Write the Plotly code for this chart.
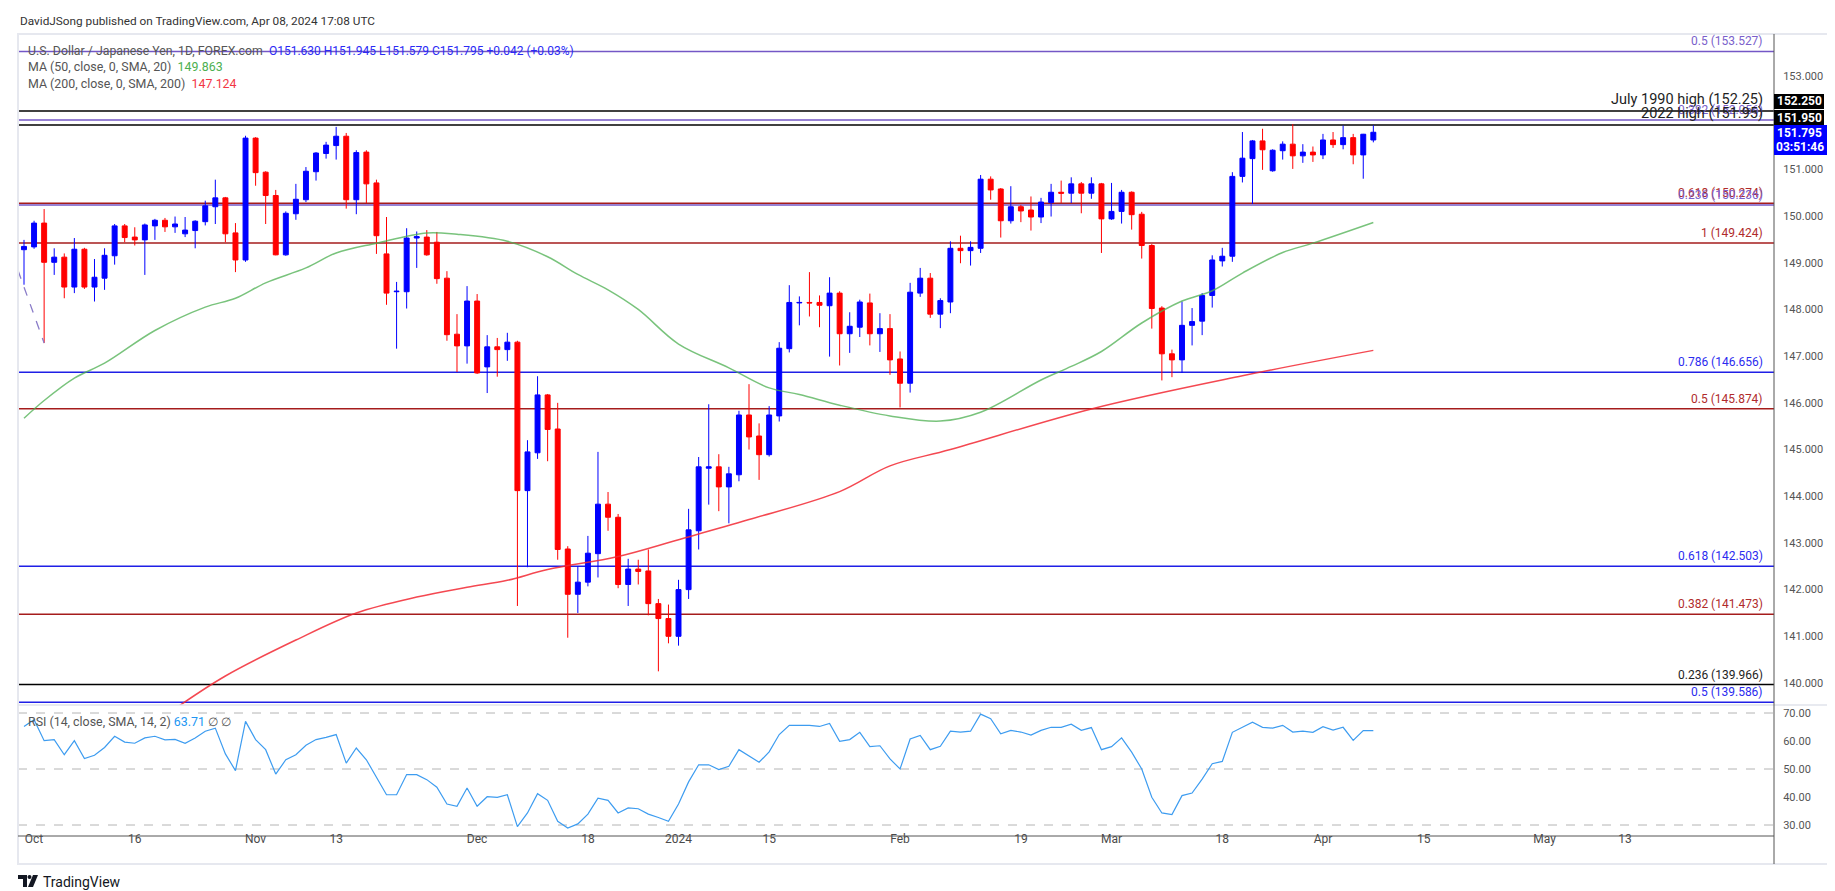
import plotly.graph_objects as go
import pandas as pd

# ---------------- data ----------------
holidays = ["2023-12-25", "2024-01-01"]
calendar = [d.strftime("%Y-%m-%d") for d in pd.bdate_range("2023-09-29", "2024-06-28")
            if d.strftime("%Y-%m-%d") not in holidays]

opens = [149.28, 149.34, 149.85, 149.01, 149.12, 148.48, 149.29, 148.48, 148.67, 149.15,
         149.79, 149.55, 149.49, 149.79, 149.91, 149.77, 149.62, 149.69, 149.88, 150.20,
         150.39, 149.64, 149.06, 151.67, 150.94, 150.44, 149.17, 150.05, 150.35, 150.95,
         151.34, 151.51, 151.71, 150.35, 151.37, 150.71, 149.19, 148.38, 148.38, 149.53,
         149.55, 149.44, 148.67, 147.47, 147.22, 148.18, 146.77, 147.20, 147.14, 147.30,
         144.12, 144.93, 146.17, 145.44, 142.87, 141.90, 142.16, 142.77, 143.83, 143.55,
         142.11, 142.44, 142.40, 141.70, 141.38, 141.00, 142.00, 143.26, 144.60, 144.63,
         144.20, 144.46, 145.74, 145.29, 144.89, 145.72, 147.16, 148.14, 148.15, 148.15,
         148.08, 148.35, 147.48, 147.62, 148.14, 147.48, 147.59, 146.94, 146.42, 148.35,
         148.67, 147.90, 148.16, 149.31, 149.26, 149.31, 150.79, 150.58, 149.90, 150.20,
         150.13, 149.98, 150.29, 150.51, 150.49, 150.69, 150.49, 150.69, 149.94, 150.10,
         150.51, 150.04, 149.37, 148.03, 147.05, 146.92, 147.66, 147.75, 148.30, 149.04,
         149.14, 150.85, 151.23, 151.61, 150.97, 151.40, 151.54, 151.29, 151.37, 151.31,
         151.63, 151.53, 151.68, 151.31, 151.630]
highs = [149.49, 149.90, 150.15, 149.31, 149.20, 149.53, 149.32, 149.08, 149.31, 149.83,
         149.83, 149.76, 149.84, 149.94, 149.96, 149.99, 149.98, 149.91, 150.33, 150.78,
         150.41, 149.85, 151.72, 151.69, 150.96, 150.56, 150.10, 150.69, 151.05, 151.37,
         151.59, 151.91, 151.78, 151.41, 151.41, 150.78, 149.98, 148.59, 149.74, 149.67,
         149.70, 149.66, 148.82, 147.90, 148.50, 148.33, 147.45, 147.39, 147.50, 147.33,
         145.20, 146.57, 146.19, 146.00, 142.93, 142.50, 143.15, 144.95, 144.09, 143.62,
         142.66, 142.64, 142.86, 141.80, 141.68, 142.21, 143.73, 144.84, 145.97, 144.90,
         144.63, 145.83, 146.40, 145.56, 145.93, 147.30, 148.52, 148.28, 148.80, 148.30,
         148.69, 148.39, 147.94, 148.21, 148.34, 147.92, 147.90, 147.10, 148.57, 148.89,
         148.78, 148.24, 149.46, 149.58, 149.46, 150.88, 150.85, 150.60, 150.64, 150.24,
         150.42, 150.39, 150.69, 150.76, 150.83, 150.73, 150.83, 150.71, 150.71, 150.56,
         150.53, 150.09, 149.40, 148.07, 147.14, 148.17, 148.03, 148.35, 149.16, 149.32,
         150.94, 151.80, 151.63, 151.87, 151.43, 151.60, 151.97, 151.54, 151.49, 151.76,
         151.80, 151.94, 151.76, 151.76, 151.945]
lows = [148.53, 149.30, 147.28, 148.74, 148.24, 148.35, 148.44, 148.17, 148.42, 148.96,
        149.44, 149.37, 148.74, 149.49, 149.66, 149.64, 149.55, 149.31, 149.80, 149.83,
        149.44, 148.80, 149.02, 150.65, 149.83, 149.16, 149.15, 149.92, 150.30, 150.76,
        151.23, 151.21, 150.16, 150.04, 150.28, 149.19, 148.10, 147.16, 148.02, 148.89,
        149.15, 148.55, 147.33, 146.66, 146.84, 146.62, 146.21, 146.56, 146.90, 141.65,
        142.48, 144.80, 144.75, 142.64, 140.97, 141.50, 142.07, 142.26, 143.26, 142.03,
        141.65, 142.11, 141.45, 140.25, 140.85, 140.80, 141.80, 142.86, 143.82, 143.68,
        143.42, 144.32, 145.00, 144.35, 144.85, 145.60, 147.08, 147.66, 147.85, 147.62,
        146.99, 146.80, 147.07, 147.41, 147.23, 147.09, 146.60, 145.90, 146.22, 148.27,
        147.82, 147.60, 147.92, 148.99, 148.94, 149.21, 150.35, 149.54, 149.84, 149.87,
        149.69, 149.85, 149.99, 150.28, 150.28, 150.06, 150.37, 149.21, 149.92, 149.84,
        149.71, 149.09, 147.59, 146.48, 146.55, 146.64, 147.23, 147.45, 148.04, 148.92,
        149.02, 150.72, 150.26, 150.99, 150.95, 151.21, 151.01, 151.14, 151.16, 151.22,
        151.46, 151.43, 151.11, 150.80, 151.579]
closes = [149.35, 149.85, 149.01, 149.12, 148.48, 149.29, 148.48, 148.69, 149.16, 149.79,
          149.54, 149.49, 149.81, 149.91, 149.77, 149.83, 149.70, 149.89, 150.22, 150.39,
          149.62, 149.06, 151.67, 150.93, 150.44, 149.17, 150.06, 150.36, 150.96, 151.35,
          151.52, 151.71, 150.35, 151.36, 150.69, 149.58, 148.35, 148.39, 149.53, 149.56,
          149.17, 148.66, 147.46, 147.22, 148.18, 146.64, 147.20, 147.14, 147.30, 144.12,
          144.95, 146.17, 145.43, 142.86, 141.90, 142.16, 142.78, 143.83, 143.55, 142.11,
          142.44, 142.39, 141.70, 141.38, 141.00, 142.00, 143.28, 144.63, 144.63, 144.20,
          144.48, 145.74, 145.27, 144.89, 145.74, 147.17, 148.15, 148.15, 148.14, 148.09,
          148.35, 147.48, 147.64, 148.16, 147.48, 147.59, 146.92, 146.42, 148.37, 148.67,
          147.90, 148.19, 149.31, 149.26, 149.33, 150.79, 150.56, 149.90, 150.20, 150.11,
          149.98, 150.30, 150.51, 150.49, 150.69, 150.49, 150.69, 149.94, 150.10, 150.51,
          150.03, 149.37, 148.02, 147.05, 146.92, 147.66, 147.74, 148.30, 149.06, 149.14,
          150.85, 151.24, 151.61, 151.42, 151.41, 151.54, 151.29, 151.37, 151.31, 151.63,
          151.53, 151.68, 151.31, 151.753, 151.795]

dates = calendar[:len(closes)]

# moving averages (bar number, value)
ma50_bar = [0, 2, 5, 8, 13, 18, 21, 24, 28, 31, 35, 40, 43, 48, 52, 55, 58, 61, 65, 70,
            74, 77, 81, 86, 91, 95, 101, 104, 107, 111, 115, 118, 121, 125, 128, 134]
ma50_val = [145.67, 146.05, 146.53, 146.85, 147.55, 148.05, 148.24, 148.57, 148.89, 149.21,
            149.42, 149.64, 149.61, 149.46, 149.13, 148.75, 148.42, 148.00, 147.26, 146.75,
            146.32, 146.18, 145.95, 145.72, 145.61, 145.80, 146.49, 146.78, 147.10, 147.71,
            148.18, 148.40, 148.78, 149.22, 149.42, 149.863]
ma200_bar = [15, 20, 27, 33, 39, 44, 48, 52, 59, 65, 72, 81, 86, 92, 106, 121, 134]
ma200_val = [139.45, 140.15, 140.92, 141.50, 141.84, 142.05, 142.20, 142.43, 142.71, 143.07,
             143.50, 144.10, 144.65, 145.00, 145.87, 146.58, 147.124]

rsi = [65.2, 67.6, 60.1, 60.5, 55.1, 60.1, 53.7, 54.9, 57.7, 61.7,
       59.6, 59.2, 61.1, 61.7, 60.4, 60.6, 59.2, 61.1, 63.5, 64.6,
       55.4, 49.4, 67.0, 60.5, 56.9, 48.2, 53.3, 55.1, 58.5, 60.5,
       61.3, 62.3, 52.1, 57.5, 53.3, 46.8, 40.8, 40.8, 48.0, 48.0,
       46.2, 43.5, 37.5, 36.7, 43.2, 36.7, 40.1, 39.9, 40.8, 29.4,
       34.3, 41.2, 38.8, 31.3, 28.9, 30.4, 33.9, 39.6, 38.8, 34.3,
       36.1, 35.8, 33.9, 32.7, 31.3, 37.5, 45.4, 51.5, 51.5, 49.8,
       51.0, 56.9, 54.5, 52.4, 56.1, 62.3, 65.6, 65.6, 65.6, 65.2,
       66.3, 59.9, 60.5, 63.1, 58.0, 58.3, 53.6, 50.0, 60.7, 62.0,
       56.9, 58.1, 63.5, 63.2, 63.5, 69.6, 68.0, 62.6, 63.8, 63.2,
       62.1, 63.8, 64.9, 64.9, 66.0, 63.8, 64.8, 56.9, 58.0, 61.1,
       56.0, 50.0, 39.9, 34.3, 33.7, 40.5, 41.4, 46.4, 51.9, 52.7,
       63.1, 64.9, 66.7, 64.9, 64.6, 65.6, 63.2, 63.5, 63.1, 65.1,
       63.9, 64.9, 60.2, 63.7, 63.71]
rsi_levels = [70, 50, 30]

fib_levels = [153.527, 152.25, 152.056, 151.95, 150.274, 150.236, 149.424,
              146.656, 145.874, 142.503, 141.473, 139.966, 139.586]
fib_labels = ["0.5 (153.527)", "July 1990 high (152.25)", "0.382 (152.056)", "2022 high (151.95)",
              "0.618 (150.274)", "0.236 (150.236)", "1 (149.424)", "0.786 (146.656)",
              "0.5 (145.874)", "0.618 (142.503)", "0.382 (141.473)", "0.236 (139.966)",
              "0.5 (139.586)"]
fib_kind = ["purple", "black", "purple", "black", "red", "purple", "red",
            "blue", "red", "blue", "red", "black", "blue"]

trend_bar = [-0.6, 2]
trend_val = [148.84, 147.28]

price_ticks = [140, 141, 142, 143, 144, 145, 146, 147, 148, 149, 150, 151, 153]
rsi_ticks = [30, 40, 50, 60, 70]

tick_dates = ["2023-10-02", "2023-10-16", "2023-11-01", "2023-11-13", "2023-12-01", "2023-12-18",
              "2024-01-02", "2024-01-15", "2024-02-01", "2024-02-19", "2024-03-01", "2024-03-18",
              "2024-04-01", "2024-04-15", "2024-05-01", "2024-05-13"]
tick_labels = ["Oct", "16", "Nov", "13", "Dec", "18", "2024", "15", "Feb", "19", "Mar", "18",
               "Apr", "15", "May", "13"]

tags = [("152.250", "#000000"), ("151.950", "#000000")]
last_time = "03:51:46"

# ---------------- geometry helpers ----------------
W, H = 1835, 891
PL, PR, PT, PB = 10, 1766, 27, 828
SEP = 697


def px(x):
    return (x - PL) / (PR - PL)


def py(y):
    return (PB - y) / (PB - PT)


colors = {"purple": "#7457c6", "black": "#000000", "red": "#a51c1c", "blue": "#1f1fe6"}
text_colors = {"purple": "#7a5fcb", "black": "#1e1e1e", "red": "#b02b2b", "blue": "#2b2bef"}
FONT = "Roboto, 'Noto Sans', sans-serif"

xidx = list(range(len(closes)))
pos = {d: i for i, d in enumerate(calendar)}

fig = go.Figure()

fig.add_trace(go.Candlestick(
    x=xidx, open=opens, high=highs, low=lows, close=closes,
    increasing=dict(line=dict(color="#0000ff", width=1), fillcolor="#0000ff"),
    decreasing=dict(line=dict(color="#ff0000", width=1), fillcolor="#ff0000"),
    whiskerwidth=0, hoverinfo="skip", showlegend=False, yaxis="y", xaxis="x"))

fig.add_trace(go.Scatter(x=ma50_bar, y=ma50_val, mode="lines", yaxis="y",
                         line=dict(color="rgba(76,175,80,0.75)", width=1.5, shape="spline"),
                         hoverinfo="skip", showlegend=False))
fig.add_trace(go.Scatter(x=ma200_bar, y=ma200_val, mode="lines", yaxis="y",
                         line=dict(color="rgba(242,40,50,0.85)", width=1.5, shape="spline"),
                         hoverinfo="skip", showlegend=False))
fig.add_trace(go.Scatter(x=xidx, y=rsi, mode="lines", yaxis="y2",
                         line=dict(color="#3d9cf0", width=1.2),
                         hoverinfo="skip", showlegend=False))

shapes = []
for lv, kind in zip(fib_levels, fib_kind):
    shapes.append(dict(type="line", xref="paper", yref="y", x0=0, x1=1, y0=lv, y1=lv,
                       line=dict(color=colors[kind], width=1.5), layer="below"))
shapes.append(dict(type="line", xref="x", yref="y", x0=trend_bar[0], x1=trend_bar[1],
                   y0=trend_val[0], y1=trend_val[1],
                   line=dict(color="#8a7cc8", width=1.3, dash="dash")))
for lv in rsi_levels:
    shapes.append(dict(type="line", xref="paper", yref="y2", x0=0, x1=1, y0=lv, y1=lv,
                       line=dict(color="#b4b4b4", width=1, dash="dash"), layer="below"))
shapes.append(dict(type="rect", xref="paper", yref="paper", x0=px(10), x1=px(1824),
                   y0=py(856), y1=py(26), line=dict(color="#e6e8ef", width=2)))
shapes.append(dict(type="line", xref="paper", yref="paper", x0=px(10), x1=px(1824),
                   y0=py(SEP), y1=py(SEP), line=dict(color="#e0e3eb", width=1.5)))
shapes.append(dict(type="line", xref="paper", yref="paper", x0=px(1766), x1=px(1766),
                   y0=py(856), y1=py(26), line=dict(color="#555555", width=1)))
shapes.append(dict(type="line", xref="paper", yref="paper", x0=px(10), x1=px(1766),
                   y0=py(828), y1=py(828), line=dict(color="#555555", width=1)))
tag_boxes = [(86, 101), (102, 117)]
for (top, bot), (txt, col) in zip(tag_boxes, tags):
    shapes.append(dict(type="rect", xref="paper", yref="paper", x0=px(1766), x1=px(1816),
                       y0=py(bot), y1=py(top), fillcolor=col, line=dict(width=0)))
shapes.append(dict(type="rect", xref="paper", yref="paper", x0=px(1766), x1=px(1819),
                   y0=py(147), y1=py(117), fillcolor="#0000ff", line=dict(width=0)))
shapes.append(dict(type="path", xref="paper", yref="paper",
                   path="M {a},{b} L {c},{b} L {c},{d} L {e},{d} L {e},{f} L {a},{f} Z".format(
                       a=px(10), b=py(867), c=px(19), d=py(879), e=px(15), f=py(871)),
                   fillcolor="#131722", line=dict(width=0)))
shapes.append(dict(type="circle", xref="paper", yref="paper", x0=px(19.5), x1=px(23.5),
                   y0=py(871), y1=py(867), fillcolor="#131722", line=dict(width=0)))
shapes.append(dict(type="path", xref="paper", yref="paper",
                   path="M {a},{b} L {c},{b} L {d},{e} L {f},{e} Z".format(
                       a=px(25), b=py(867), c=px(30), d=px(25), e=py(879), f=px(20)),
                   fillcolor="#131722", line=dict(width=0)))

ann = []
for lv, lab, kind in zip(fib_levels, fib_labels, fib_kind):
    big = "high" in lab
    ann.append(dict(xref="paper", yref="y", x=px(1757), y=lv, text=lab, showarrow=False,
                    xanchor="right", yanchor="bottom", yshift=1,
                    font=dict(size=14.5 if big else 12, color=text_colors[kind], family=FONT)))

for (top, bot), (txt, col) in zip(tag_boxes, tags):
    ann.append(dict(xref="paper", yref="paper", x=px(1791), y=py((top + bot) / 2),
                    text="<b>%s</b>" % txt, showarrow=False, xanchor="center", yanchor="middle",
                    font=dict(size=12, color="white", family=FONT)))
ann.append(dict(xref="paper", yref="paper", x=px(1792), y=py(125),
                text="<b>%.3f</b>" % closes[-1], showarrow=False, xanchor="center",
                yanchor="middle", font=dict(size=12, color="white", family=FONT)))
ann.append(dict(xref="paper", yref="paper", x=px(1792), y=py(139),
                text="<b>%s</b>" % last_time, showarrow=False, xanchor="center",
                yanchor="middle", font=dict(size=12, color="white", family=FONT)))

chg = closes[-1] - closes[-2]
ann.append(dict(xref="paper", yref="paper", x=px(10), y=py(13), xanchor="left", yanchor="middle",
                showarrow=False, text="DavidJSong published on TradingView.com, Apr 08, 2024 17:08 UTC",
                font=dict(size=11.8, color="#333333", family=FONT)))
blue = "#2a2af5"
ohlc_txt = ("U.S. Dollar / Japanese Yen, 1D, FOREX.com  "
            "<span style='color:%s;font-size:12px'>O%.3f H%.3f L%.3f C%.3f %+.3f (%+.2f%%)</span>"
            % (blue, opens[-1], highs[-1], lows[-1], closes[-1], chg, chg / closes[-2] * 100))
ann.append(dict(xref="paper", yref="paper", x=px(18), y=py(43), xanchor="left", yanchor="middle",
                showarrow=False, text=ohlc_txt, font=dict(size=12.3, color="#555555", family=FONT)))
ann.append(dict(xref="paper", yref="paper", x=px(18), y=py(59), xanchor="left", yanchor="middle",
                showarrow=False,
                text="MA (50, close, 0, SMA, 20)  <span style='color:#4caf50'>%.3f</span>" % ma50_val[-1],
                font=dict(size=12.4, color="#555555", family=FONT)))
ann.append(dict(xref="paper", yref="paper", x=px(18), y=py(75), xanchor="left", yanchor="middle",
                showarrow=False,
                text="MA (200, close, 0, SMA, 200)  <span style='color:#f23645'>%.3f</span>" % ma200_val[-1],
                font=dict(size=12.4, color="#555555", family=FONT)))
ann.append(dict(xref="paper", yref="paper", x=px(18), y=py(713), xanchor="left", yanchor="middle",
                showarrow=False,
                text="RSI (14, close, SMA, 14, 2) <span style='color:#2196f3'>%.2f</span> ∅ ∅" % rsi[-1],
                font=dict(size=12.4, color="#555555", family=FONT)))
ann.append(dict(xref="paper", yref="paper", x=px(33), y=py(874), xanchor="left", yanchor="middle",
                showarrow=False, text="TradingView",
                font=dict(size=14, color="#131722", family=FONT)))

main_bottom = py(SEP)
fig.update_layout(
    width=W, height=H, autosize=False,
    margin=dict(l=PL, r=W - PR, t=PT, b=H - PB, pad=0),
    paper_bgcolor="white", plot_bgcolor="white",
    showlegend=False, hovermode=False,
    font=dict(family=FONT, color="#4a4a4a"),
    xaxis=dict(range=[-0.596, 173.79], anchor="y2", showgrid=False, zeroline=False,
               showline=False, rangeslider=dict(visible=False),
               tickvals=[pos[d] for d in tick_dates], ticktext=tick_labels,
               ticks="", ticklen=0, ticklabelstandoff=-6,
               tickfont=dict(size=12, color="#4a4a4a", family=FONT)),
    yaxis=dict(domain=[main_bottom, 1], range=[139.529, 153.878], side="right",
               showgrid=False, zeroline=False, showline=False,
               tickvals=price_ticks, ticktext=["%.3f" % v for v in price_ticks],
               ticks="outside", ticklen=6, tickcolor="rgba(0,0,0,0)",
               tickfont=dict(size=11, color="#555555", family=FONT)),
    yaxis2=dict(domain=[0, main_bottom], range=[26.07, 72.86], side="right", anchor="x",
                showgrid=False, zeroline=False, showline=False,
                tickvals=rsi_ticks, ticktext=["%.2f" % v for v in rsi_ticks],
                ticks="outside", ticklen=6, tickcolor="rgba(0,0,0,0)",
                tickfont=dict(size=11, color="#555555", family=FONT)),
    shapes=shapes, annotations=ann,
)

fig.write_html("out.html", config={"displayModeBar": False})
